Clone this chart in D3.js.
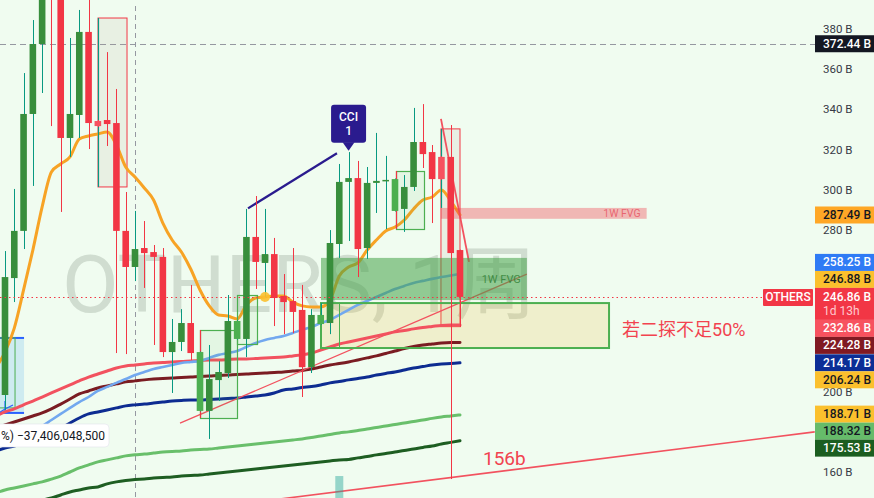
<!DOCTYPE html>
<html><head><meta charset="utf-8">
<script src="https://cdnjs.cloudflare.com/ajax/libs/d3/7.8.5/d3.min.js"></script>
<style>html,body{margin:0;padding:0;background:#f0fcf0;overflow:hidden}svg{display:block}</style>
</head><body><svg id="c" width="874" height="498"></svg>
<script>
// ---------------- DATA ----------------
const symbol = "OTHERS";
const watermark = "OTHERS, 1周";
const opens  = [198.2,256.2,279.6,337.6,372.3,400.0,396.0,325.7,337.1,378.3,334.1,334.6,333.1,279.6,261.7,271.1,269.1,266.7,219.5,224.5,233.9,190.3,190.3,205.6,209.1,226.0,226.0,276.6,263.7,268.1,247.3,244.8,240.4,212.0,233.4,233.9,273.1,303.9,305.8,271.1,303.4,304.4,289.5,290.5,301.4,323.7,318.7,316.3,316.3,270.1];
const highs  = [269.6,300.4,357.9,384.2,404.1,405.0,398.0,375.3,389.2,396.0,334.6,368.3,350.0,298.9,289.5,284.5,272.6,271.1,235.9,240.8,252.8,219.8,223.0,215.0,247.8,235.3,290.5,296.9,290.5,276.1,258.2,271.1,252.8,240.8,243.8,280.0,312.8,318.7,314.3,311.3,328.2,316.8,305.6,307.3,340.6,342.5,322.2,316.6,332.1,270.3];
const lows   = [190.8,244.3,270.6,301.9,348.0,331.6,289.0,316.3,325.7,320.2,331.2,321.7,219.0,218.5,254.7,251.3,223.0,217.0,199.2,220.0,215.5,190.0,176.4,195.2,206.6,225.6,217.0,250.8,246.8,232.4,228.4,228.9,197.2,209.1,233.0,228.4,266.2,274.6,256.7,265.7,288.5,280.5,289.2,279.1,299.4,310.8,283.5,305.0,156.5,231.9];
const closes = [256.7,279.6,337.6,372.3,398.1,396.0,325.7,337.6,378.3,333.1,331.6,332.6,279.6,261.7,270.6,268.6,266.7,219.5,224.5,233.9,219.0,219.5,206.1,209.6,234.9,234.9,276.6,264.2,268.1,246.3,244.3,239.4,212.0,237.9,237.9,273.6,303.9,305.8,270.6,303.4,304.4,304.9,305.3,301.4,323.7,317.7,305.3,305.3,268.6,246.86];
const markedBars = [10,21,25,34,42,47];

// moving averages, first value belongs to bar index -1
const maOrange = [211.6,219.5,231.4,250.3,270.1,291.5,308.8,312.8,316.3,325.2,326.7,327.7,328.7,322.2,311.3,306.3,300.9,294.9,283.5,275.1,269.1,260.7,250.3,242.4,237.9,237.4,235.9,242.9,246.3,246.8,247.3,247.3,244.3,242.4,241.9,241.9,245.3,257.2,261.7,263.7,270.1,275.1,279.6,281.5,285.0,290.5,294.9,296.4,299.9,294.4,287.49];
const maLightBlue = [172.4,174.4,175.9,177.9,180.4,182.8,185.8,188.8,191.8,194.7,197.2,200.2,202.2,204.2,206.1,208.1,209.6,211.1,212.1,213.1,214.1,214.6,215.1,216.6,218.1,219.0,220.0,222.0,224.0,225.5,226.5,227.5,229.0,230.5,231.9,233.9,235.4,237.9,240.4,242.9,244.8,246.8,248.8,250.8,252.3,253.8,254.8,255.8,256.7,257.5,258.25];
const maPink = [187.8,189.8,191.3,193.3,195.2,197.2,199.2,201.2,203.2,205.2,207.1,208.6,210.1,211.6,212.6,213.1,213.6,214.1,214.3,214.6,214.8,215.1,215.3,215.6,215.6,215.8,216.1,216.1,216.3,216.6,216.8,217.1,217.6,218.1,219.0,220.5,222.0,223.5,224.5,225.5,226.5,227.5,228.5,229.5,230.2,231.0,231.7,232.2,232.7,232.86,232.86];
const maDarkRed = [181.8,183.3,184.8,186.3,187.8,189.3,191.3,193.7,196.2,198.7,200.2,201.7,202.7,203.7,204.7,205.2,205.7,206.1,206.4,206.6,206.9,207.1,207.4,207.6,207.9,208.1,208.4,208.6,208.9,209.1,209.4,209.6,210.1,210.4,211.1,212.1,213.1,213.8,214.6,215.6,216.6,217.6,218.8,220.0,221.3,222.3,223.0,223.5,224.0,224.25,224.28];
const maDarkBlue = [170.4,171.9,172.9,174.4,175.9,177.4,179.4,181.8,184.3,186.8,188.8,189.8,190.8,191.8,192.8,193.3,193.7,194.2,194.7,195.2,195.5,195.7,195.7,196.0,196.2,196.5,196.7,197.2,197.7,198.2,199.2,200.7,201.2,201.9,202.4,203.2,204.2,204.9,205.7,206.4,207.1,208.1,208.9,209.6,210.6,211.6,212.3,213.1,213.6,213.8,214.17];
const maLightGreen = [149.6,151.1,152.1,153.1,154.1,155.1,156.5,158.0,160.0,162.0,163.5,165.0,166.0,167.0,168.0,168.5,168.9,169.4,169.9,170.2,170.4,170.9,171.2,171.4,171.9,172.4,172.9,173.4,173.9,174.4,174.9,175.4,175.9,176.4,177.1,177.9,178.6,179.4,179.9,180.6,181.3,182.1,182.8,183.6,184.3,185.1,185.8,186.6,187.3,187.8,188.32];
const maDarkGreen = [141.2,142.2,143.2,144.1,145.1,146.1,147.1,148.6,150.1,151.1,152.1,152.6,154.1,155.1,155.8,156.3,156.5,157.0,157.3,157.5,158.0,158.3,158.5,159.0,159.5,160.0,160.5,161.0,161.5,162.0,162.5,163.0,163.5,164.0,164.5,165.0,165.5,166.0,166.2,167.0,167.7,168.5,169.2,169.9,170.7,171.4,172.2,172.9,173.9,174.7,175.53];

const yTicks = [160,180,200,220,240,260,280,300,320,340,360,380];
const lastPrice = 246.86;
const countdown = "1d 13h";
const labelValues = [372.44, 287.49, 258.25, 246.88, 232.86, 224.28, 214.17, 206.24, 188.71, 188.32, 175.53];
const hLineValue = 372.44;
const vLineIndex = 14;

// drawings in bar-index / price units
const boxes = [
  {i0:10.02, i1:13.14, top:385.2, bottom:301.4, kind:"A"},
  {i0:21.0,  i1:24.98, top:230.4, bottom:186.8, kind:"B"},
  {i0:24.98, i1:27.14, top:247.8, bottom:223.5, kind:"C"},
  {i0:42.1,  i1:45.1,  top:309.3, bottom:280.5, kind:"B"},
  {i0:46.95, i1:49.0,  top:330.2, bottom:232.1, kind:"A"}
];
const fvgs = [
  {i0:46.95, i1:69.1, top:291.0, bottom:285.6, label:"1W FVG", kind:"pink"},
  {i0:34.03, i1:56.2, top:266.2, bottom:245.3, label:"1W FVG", kind:"green"}
];
const zone = {i0:34.03, i1:65.05, top:243.8, bottom:221.5, divider:35.97};
const blueBox = {i0:-0.6, i1:2.05, top:226.5, bottom:189.3, inner:1.08, innerBottom:191.8};
const trendLines = [
  {i0:18.85, v0:184.2, i1:56.2, v1:258.2, kind:"thin"},
  {i0:29.6,  v0:146.6, i1:87.2, v1:179.9, kind:"long"},
  {i0:26.17, v0:290.8, i1:35.75, v1:318.1, kind:"purple"},
  {i0:46.95, v0:335.2, i1:49.97, v1:264.2, kind:"red"}
];
const cciMark = {index:37, value:319.3, lines:["CCI","1"]};
const dotMark = {index:28, value:246.8};
const volMark = {index:36, value:158.0};
const notes = [
  {index:51.48, value:163.5, text:"156b", size:19},
  {index:66.45, value:227.5, text:"若二探不足50%", size:18}
];
const tooltipText = "%) −37,406,048,500";

// ---------------- DRAW ----------------
const W = 874, H = 498, plotR = 815;
const FONT = "Roboto, 'Noto Sans', 'Noto Sans CJK SC', sans-serif";
const svg = d3.select("#c");
const x = d3.scaleLinear().domain([0, 49]).range([5, 460]);
const y = d3.scaleLinear().domain([160, 380]).range([472, 28.5]);
const px = v => Math.round(v) + 0.5;

svg.append("rect").attr("width", W).attr("height", H).attr("fill", "#f0fcf0");
svg.append("defs").append("clipPath").attr("id", "plot")
  .append("rect").attr("x", 0).attr("y", 0).attr("width", plotR).attr("height", H);
const plot = svg.append("g").attr("clip-path", "url(#plot)");

// watermark
plot.append("text").attr("x", 62).attr("y", 312)
  .attr("font-family", "Roboto, 'Noto Sans CJK SC', sans-serif").attr("font-size", 80)
  .attr("fill", "#8b9a8b").attr("fill-opacity", 0.32).attr("textLength", 475).attr("lengthAdjust", "spacingAndGlyphs")
  .text(watermark);

// reference lines
plot.append("line").attr("x1", px(x(vLineIndex))).attr("x2", px(x(vLineIndex))).attr("y1", 6).attr("y2", H)
  .attr("stroke", "#9598a1").attr("stroke-dasharray", "5,4");
plot.append("line").attr("x1", 0).attr("x2", plotR).attr("y1", px(y(hLineValue))).attr("y2", px(y(hLineValue)))
  .attr("stroke", "#9598a1").attr("stroke-dasharray", "6,4");

// box fills (type A behind)
boxes.filter(b => b.kind === "A").forEach(b => {
  plot.append("rect").attr("x", x(b.i0)).attr("y", y(b.top)).attr("width", x(b.i1) - x(b.i0)).attr("height", y(b.bottom) - y(b.top))
    .attr("fill", "#b4a08c").attr("fill-opacity", 0.12).attr("stroke", "#f23645").attr("stroke-width", 1);
});

// blue box
plot.append("rect").attr("x", x(blueBox.i0)).attr("y", y(blueBox.top)).attr("width", x(blueBox.i1) - x(blueBox.i0))
  .attr("height", y(blueBox.bottom) - y(blueBox.top)).attr("fill", "#2196f3").attr("fill-opacity", 0.16);
[blueBox.top, blueBox.bottom].forEach(v => plot.append("line").attr("x1", x(blueBox.i0)).attr("x2", x(blueBox.i1))
  .attr("y1", y(v)).attr("y2", y(v)).attr("stroke", "#2962ff").attr("stroke-width", 2));
plot.append("rect").attr("x", x(blueBox.i0)).attr("y", y(blueBox.top)).attr("width", x(blueBox.inner) - x(blueBox.i0))
  .attr("height", y(blueBox.innerBottom) - y(blueBox.top)).attr("fill", "none").attr("stroke", "#4caf50").attr("stroke-width", 1);
plot.append("path").attr("d", `M${x(0)},${y(blueBox.bottom)} L${x(0)},${y(blueBox.bottom)-12} M${x(0)-6},${y(blueBox.bottom)} L${x(0)},${y(blueBox.bottom)-4} L${x(0)+8},${y(blueBox.bottom)-8}`)
  .attr("stroke", "#2962ff").attr("fill", "none").attr("stroke-width", 1.2);

// zone (beige)
plot.append("rect").attr("x", x(zone.i0)).attr("y", y(zone.top)).attr("width", x(zone.i1) - x(zone.i0)).attr("height", y(zone.bottom) - y(zone.top))
  .attr("fill", "#ebbe3c").attr("fill-opacity", 0.2);

// moving averages
const ma = d3.line().x((d, i) => x(i - 1)).y(d => y(d)).curve(d3.curveMonotoneX);
[
  [maDarkGreen, "#1e5e22", 3],
  [maLightGreen, "#69bf6b", 3],
  [maDarkBlue, "#0d2c91", 3],
  [maDarkRed, "#7a1c22", 3],
  [maPink, "#f2525f", 3],
  [maLightBlue, "#72a8ef", 2.6],
  [maOrange, "#f7a325", 3]
].forEach(([arr, col, w]) => plot.append("path").attr("d", ma(arr)).attr("fill", "none")
  .attr("stroke", col).attr("stroke-width", w).attr("stroke-linejoin", "round").attr("stroke-linecap", "round"));

// trend lines
const tlStyle = {thin:["#f2525f",1.3], long:["#f2525f",1.6], purple:["#2a1b8e",2.2], red:["#f2525f",1.8]};
trendLines.forEach(t => plot.append("line").attr("x1", x(t.i0)).attr("y1", y(t.v0)).attr("x2", x(t.i1)).attr("y2", y(t.v1))
  .attr("stroke", tlStyle[t.kind][0]).attr("stroke-width", tlStyle[t.kind][1]));

// FVGs
fvgs.forEach(f => {
  const isG = f.kind === "green";
  plot.append("rect").attr("x", x(f.i0)).attr("y", y(f.top)).attr("width", x(f.i1) - x(f.i0)).attr("height", y(f.bottom) - y(f.top))
    .attr("fill", isG ? "#43a047" : "#f23645").attr("fill-opacity", isG ? 0.55 : 0.35);
  plot.append("text").attr("x", x(f.i1) - 6).attr("y", (y(f.top) + y(f.bottom)) / 2 + 4)
    .attr("text-anchor", "end").attr("font-family", FONT).attr("font-size", isG ? 11 : 10.5)
    .attr("fill", isG ? "#2e7d32" : "#e8606c").attr("fill-opacity", isG ? 0.8 : 0.95).text(f.label);
});

// zone border
plot.append("rect").attr("x", x(zone.i0)).attr("y", y(zone.top)).attr("width", x(zone.i1) - x(zone.i0)).attr("height", y(zone.bottom) - y(zone.top))
  .attr("fill", "none").attr("stroke", "#4caf50").attr("stroke-width", 2);
plot.append("line").attr("x1", px(x(zone.divider))).attr("x2", px(x(zone.divider))).attr("y1", y(zone.top)).attr("y2", y(zone.bottom))
  .attr("stroke", "#4caf50").attr("stroke-width", 1);

// box B/C (green)
boxes.filter(b => b.kind !== "A").forEach(b => {
  plot.append("rect").attr("x", px(x(b.i0))).attr("y", px(y(b.top))).attr("width", Math.round(x(b.i1) - x(b.i0))).attr("height", Math.round(y(b.bottom) - y(b.top)))
    .attr("fill", "#4caf50").attr("fill-opacity", 0.08).attr("stroke", "#4caf50").attr("stroke-width", 1.2);
  if (b.kind === "B") plot.append("line").attr("x1", px(x(b.i0))).attr("x2", px(x(b.i0))).attr("y1", y(b.top)).attr("y2", y(b.bottom))
    .attr("stroke", "#f23645").attr("stroke-width", 1.2);
});
// teal edges of A boxes
boxes.filter(b => b.kind === "A").forEach((b, k) => {
  const bot = k === 0 ? b.bottom : fvgs[0].top;
  plot.append("line").attr("x1", px(x(b.i0))).attr("x2", px(x(b.i0))).attr("y1", y(b.top)).attr("y2", y(bot))
    .attr("stroke", "#089981").attr("stroke-width", 1.2);
});

// candles
const idx = d3.range(opens.length);
const cg = plot.append("g");
idx.forEach(i => {
  const up = closes[i] >= opens[i];
  const marked = markedBars.includes(i);
  const body = up ? (marked ? "#4caf50" : "#388e3c") : (marked ? "#f7525f" : "#f23645");
  const wick = up ? "#089981" : "#f23645";
  const cx = px(x(i));
  cg.append("line").attr("x1", cx).attr("x2", cx).attr("y1", y(highs[i])).attr("y2", y(lows[i])).attr("stroke", wick).attr("stroke-width", 1);
  const t = y(Math.max(opens[i], closes[i])), bm = y(Math.min(opens[i], closes[i]));
  cg.append("rect").attr("x", x(i) - 3.3).attr("width", 6.6).attr("y", t).attr("height", Math.max(1.5, bm - t)).attr("fill", body);
});

// last price dotted line
plot.append("line").attr("x1", 0).attr("x2", 763).attr("y1", px(y(lastPrice))).attr("y2", px(y(lastPrice)))
  .attr("stroke", "#f23645").attr("stroke-width", 1).attr("stroke-dasharray", "1.5,3");

// dot & volume mark
plot.append("circle").attr("cx", x(dotMark.index)).attr("cy", y(dotMark.value)).attr("r", 5).attr("fill", "#fbc02d").attr("fill-opacity", 0.9);
plot.append("rect").attr("x", x(volMark.index) - 4).attr("y", y(volMark.value)).attr("width", 8).attr("height", H - y(volMark.value))
  .attr("fill", "#26a69a").attr("fill-opacity", 0.45);

// CCI label
{
  const tx = x(cciMark.index), ty = y(cciMark.value);
  const g = plot.append("g");
  g.append("rect").attr("x", tx - 17.5).attr("y", ty - 46).attr("width", 35).attr("height", 38).attr("rx", 3).attr("fill", "#2a1b8e");
  g.append("path").attr("d", `M${tx-6},${ty-8.5} L${tx+6},${ty-8.5} L${tx},${ty} Z`).attr("fill", "#2a1b8e");
  cciMark.lines.forEach((s, k) => g.append("text").attr("x", tx).attr("y", ty - 30 + k * 14).attr("text-anchor", "middle")
    .attr("font-family", FONT).attr("font-size", 12).attr("font-weight", 500).attr("fill", "#fff").text(s));
}

// notes
notes.forEach(n => plot.append("text").attr("x", x(n.index)).attr("y", y(n.value)).attr("font-family", FONT)
  .attr("font-size", n.size).attr("fill", "#f2434f").text(n.text));

// tooltip
{
  const g = svg.append("g");
  g.append("rect").attr("x", -6).attr("y", 424).attr("width", 115).attr("height", 23).attr("rx", 4)
    .attr("fill", "#fff").attr("stroke", "#e0e3eb").attr("stroke-width", 0.6);
  g.append("text").attr("x", 1).attr("y", 440).attr("font-family", FONT).attr("font-size", 12).attr("fill", "#131722").text(tooltipText);
}

// price label layout
const LH = 17;
const mainY = y(lastPrice), mainTop = mainY - 9, mainBot = mainTop + 32;
const placed = [];
let bound = mainTop;
labelValues.filter(v => v > lastPrice).sort((a, b) => a - b).forEach(v => {
  const bot = Math.min(y(v) + LH / 2, bound); placed.push([v, bot - LH]); bound = bot - LH;
});
bound = mainBot;
labelValues.filter(v => v < lastPrice).sort((a, b) => b - a).forEach(v => {
  const top = Math.max(y(v) - LH / 2, bound); placed.push([v, top]); bound = top + LH;
});
const occupied = placed.map(([v, t]) => [t, t + LH]).concat([[mainTop, mainBot]]);

// axis (ticks whose centre is covered by a price label are dropped)
const visibleTicks = yTicks.filter(t => !occupied.some(([a, b]) => y(t) > a && y(t) < b));
const ax = svg.append("g").attr("transform", "translate(823,0)")
  .call(d3.axisRight(y).tickValues(visibleTicks).tickSize(0).tickPadding(0).tickFormat(d => d + " B"));
ax.select(".domain").remove();
ax.selectAll("text").attr("font-family", FONT).attr("font-size", 11.5).attr("fill", "#363a45");

const styles = {
  "372.44": ["#131722", "#ffffff"], "287.49": ["#ffa726", "#131722"], "258.25": ["#2f7bf5", "#ffffff"],
  "246.88": ["#fbc02d", "#131722"], "232.86": ["#f7525f", "#ffffff"], "224.28": ["#801922", "#ffffff"],
  "214.17": ["#0c2e96", "#ffffff"], "206.24": ["#fbc02d", "#131722"], "188.71": ["#fbc02d", "#131722"],
  "188.32": ["#66bb6a", "#131722"], "175.53": ["#1b5e20", "#ffffff"]
};
const lg = svg.append("g").attr("font-family", FONT).attr("font-weight", 500).attr("font-size", 12);
placed.forEach(([v, top]) => {
  const st = styles[v.toFixed(2)];
  lg.append("rect").attr("x", 815).attr("y", top).attr("width", 59).attr("height", LH).attr("fill", st[0]);
  lg.append("text").attr("x", 823).attr("y", top + 12.5).attr("fill", st[1]).text(v.toFixed(2) + " B");
});
lg.append("rect").attr("x", 815).attr("y", mainTop).attr("width", 59).attr("height", 32).attr("fill", "#f23645");
lg.append("text").attr("x", 823).attr("y", mainTop + 13).attr("fill", "#fff").text(lastPrice.toFixed(2) + " B");
lg.append("text").attr("x", 823).attr("y", mainTop + 27).attr("fill", "#ffc9ce").attr("font-weight", 400).text(countdown);
lg.append("rect").attr("x", 763).attr("y", mainY - 8).attr("width", 50).attr("height", 17).attr("rx", 1).attr("fill", "#f23645");
lg.append("text").attr("x", 788).attr("y", mainY + 4.5).attr("text-anchor", "middle").attr("fill", "#fff").text(symbol);
</script>
</body></html>
